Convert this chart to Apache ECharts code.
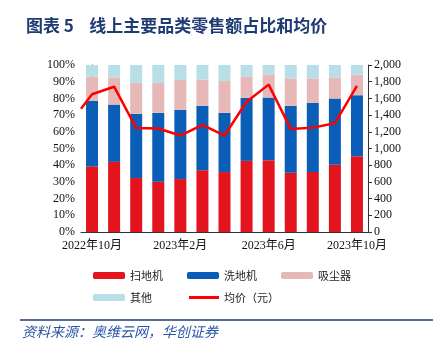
<!DOCTYPE html>
<html>
<head>
<meta charset="utf-8">
<script src="https://cdn.jsdelivr.net/npm/echarts@6/dist/echarts.min.js"></script>
<style>
html, body { margin: 0; padding: 0; background: #fff; }
#chart { width: 445px; height: 353px; }
</style>
</head>
<body>
<div id="chart"></div>
<script>
const months = ['2022年10月', '2022年11月', '2022年12月', '2023年1月', '2023年2月', '2023年3月', '2023年4月',
  '2023年5月', '2023年6月', '2023年7月', '2023年8月', '2023年9月', '2023年10月']
// shares, %
const sweeper = [39.2, 42.0, 32.3, 30.1, 31.7, 37.0, 35.9, 42.6, 43.0, 35.5, 36.0, 40.2, 45.4]
const washer = [39.3, 34.3, 38.4, 41.2, 41.4, 38.5, 35.4, 37.7, 37.5, 40.0, 41.3, 39.7, 36.5]
const vacuum = [14.5, 16.3, 18.5, 17.9, 17.9, 15.7, 19.1, 12.9, 13.9, 16.5, 14.7, 12.5, 12.3]
const others = [7.0, 7.4, 10.8, 10.8, 9.0, 8.8, 9.6, 6.8, 5.6, 8.0, 8.0, 7.6, 5.8]
// 均价（元）
const priceStart = 1475
const avgPrice = [1650, 1740, 1245, 1240, 1155, 1283, 1155, 1560, 1765, 1235, 1250, 1303, 1750]

const serif = "'Liberation Serif', 'Times New Roman', 'Noto Sans CJK SC', serif"
const cjk = "'Noto Sans CJK SC', sans-serif"
const navy = '#1f3b73'

const chart = echarts.init(document.getElementById('chart'))

const pricePoints = [[-0.5, priceStart]].concat(avgPrice.map((v, i) => [i, v]))

function barSeries(name, data, color) {
  return {
    name: name,
    type: 'bar',
    stack: 'share',
    barWidth: 12,
    data: data,
    itemStyle: { color: color },
    animation: false
  }
}

const legendText = { fontFamily: cjk, fontSize: 11, color: '#222' }

chart.setOption({
  title: {
    text: '图表 5    线上主要品类零售额占比和均价',
    left: 21,
    top: 12,
    textStyle: { fontFamily: cjk, fontSize: 17, fontWeight: 'bold', color: navy }
  },
  grid: { left: 81, right: 77, top: 65, bottom: 121 },
  legend: [{
    data: ['扫地机', '洗地机', '吸尘器'],
    left: 88,
    top: 265,
    itemWidth: 32,
    itemHeight: 7,
    itemGap: 24,
    textStyle: legendText
  }, {
    data: ['其他'],
    left: 88,
    top: 287,
    itemWidth: 32,
    itemHeight: 7,
    textStyle: legendText
  }, {
    data: [{ name: '均价（元）', icon: 'rect' }],
    left: 184,
    top: 287,
    itemWidth: 30,
    itemHeight: 3,
    textStyle: legendText
  }],
  xAxis: [{
    type: 'category',
    data: months,
    axisLine: { lineStyle: { color: '#333' } },
    axisTick: { interval: 3, length: 4, lineStyle: { color: '#333' } },
    axisLabel: { interval: 3, fontFamily: serif, fontSize: 12, color: '#111', margin: 8 }
  }, {
    type: 'value',
    min: -0.5,
    max: 12.5,
    show: false
  }],
  yAxis: [{
    type: 'value',
    min: 0,
    max: 100,
    interval: 10,
    splitLine: { show: false },
    axisLine: { show: true, lineStyle: { color: '#333' } },
    axisTick: { show: true, length: 4, lineStyle: { color: '#333' } },
    axisLabel: { formatter: '{value}%', fontFamily: serif, fontSize: 12, color: '#111', margin: 6 }
  }, {
    type: 'value',
    min: 0,
    max: 2000,
    interval: 200,
    splitLine: { show: false },
    axisLine: { show: true, lineStyle: { color: '#333' } },
    axisTick: { show: true, length: 4, lineStyle: { color: '#333' } },
    axisLabel: {
      formatter: (v) => v.toLocaleString('en-US'),
      fontFamily: serif, fontSize: 12, color: '#111', margin: 6
    }
  }],
  series: [
    barSeries('扫地机', sweeper, '#e3141e'),
    barSeries('洗地机', washer, '#0a5eb8'),
    barSeries('吸尘器', vacuum, '#e6b9b8'),
    barSeries('其他', others, '#b8dee8'),
    {
      name: '均价（元）',
      type: 'line',
      xAxisIndex: 1,
      yAxisIndex: 1,
      data: pricePoints,
      showSymbol: false,
      symbol: 'none',
      lineStyle: { color: '#ff0000', width: 2.5 },
      itemStyle: { color: '#ff0000' },
      animation: false
    }
  ],
  graphic: [{
    type: 'line',
    shape: { x1: 20, y1: 320, x2: 433, y2: 320 },
    style: { stroke: navy, lineWidth: 1.5 }
  }, {
    type: 'text',
    left: 22,
    top: 325,
    style: {
      text: '资料来源：奥维云网，华创证券',
      font: 'italic 14px ' + cjk,
      fill: '#2a56a5'
    }
  }]
})
</script>
</body>
</html>
